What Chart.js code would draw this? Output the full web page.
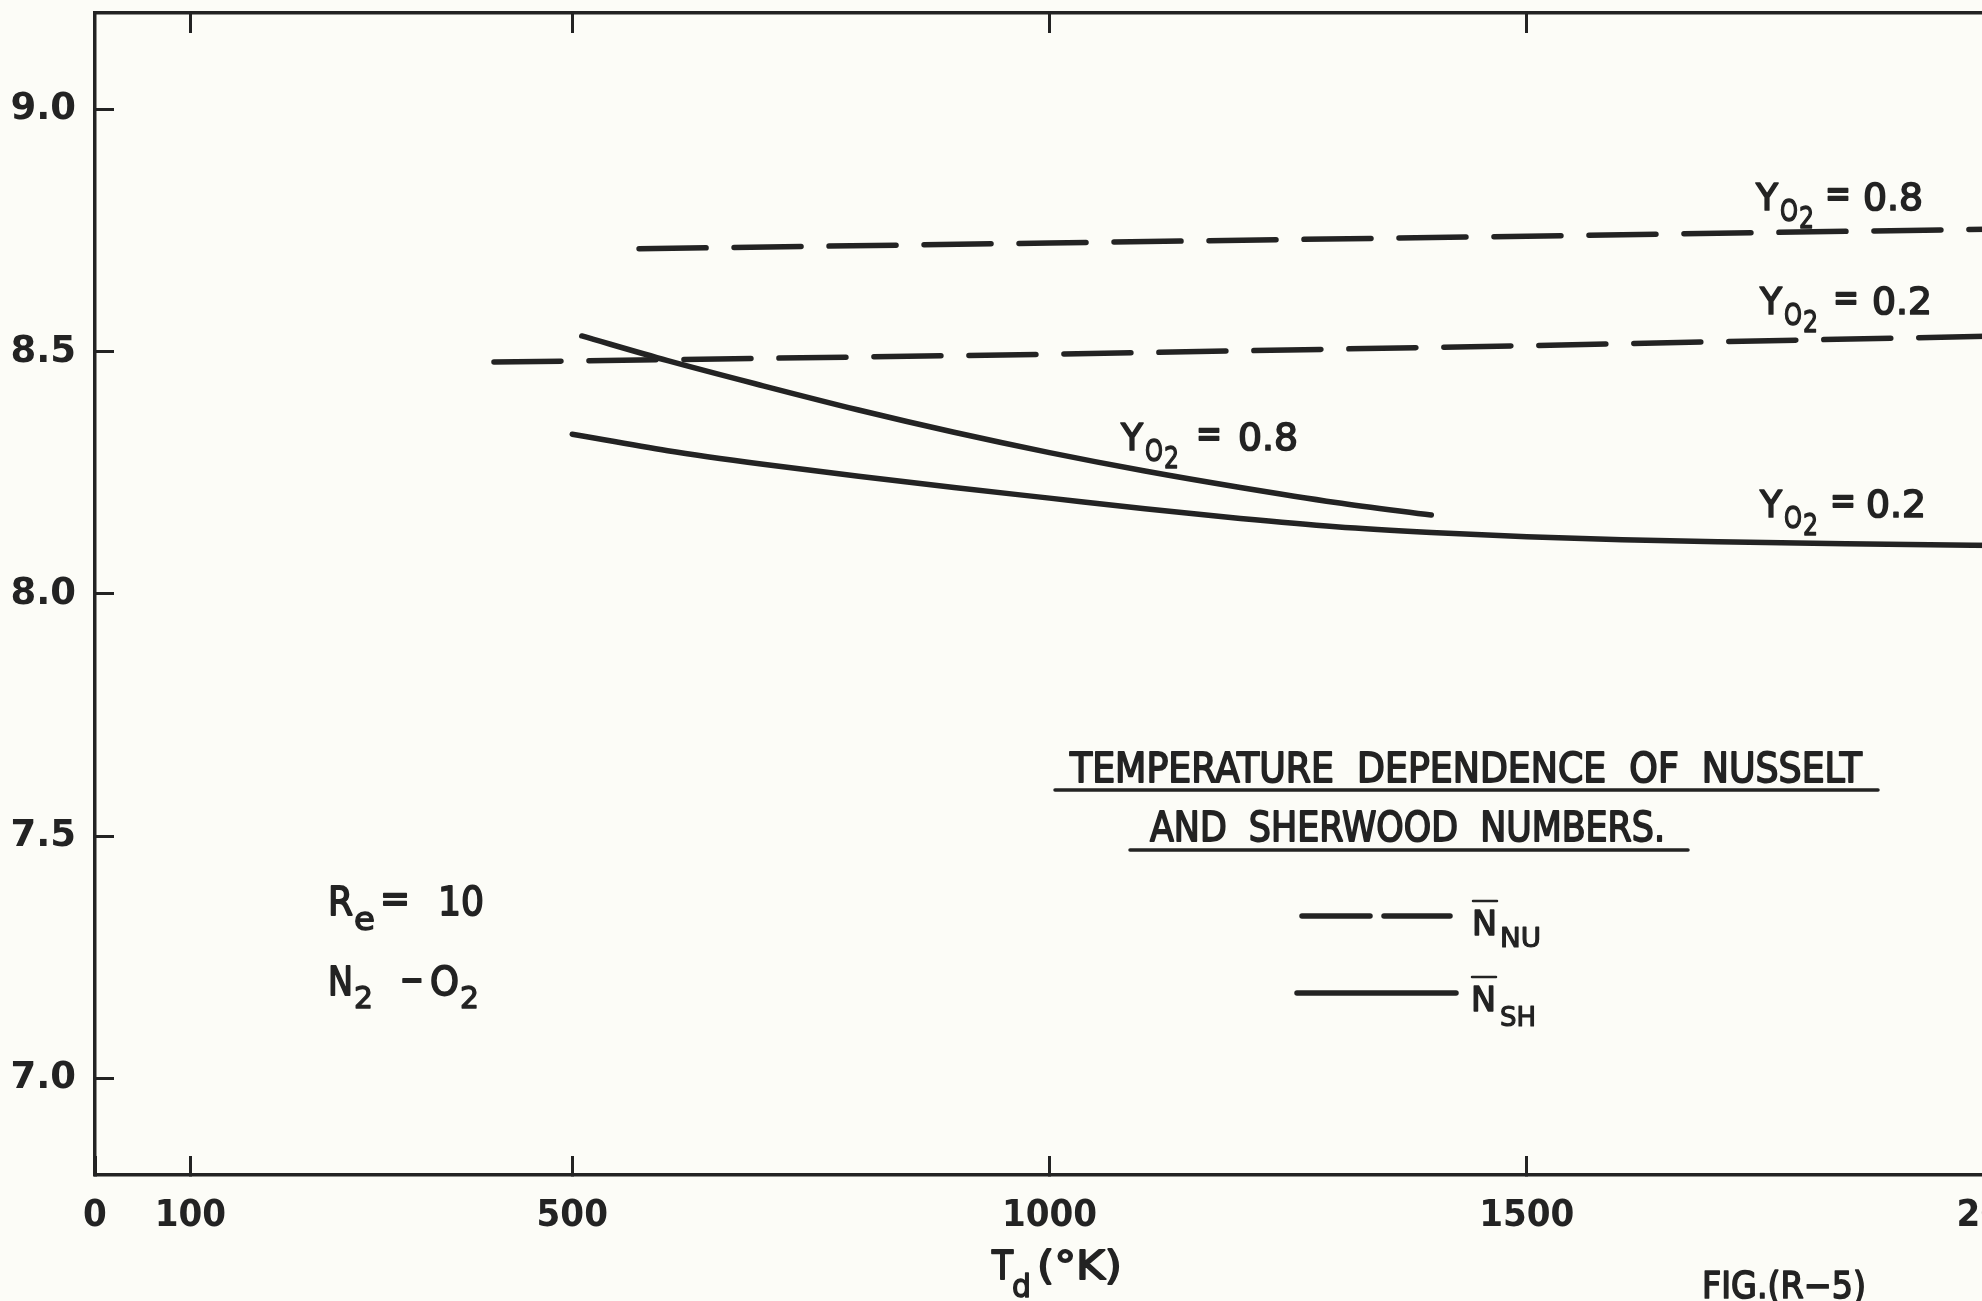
<!DOCTYPE html>
<html>
<head>
<meta charset="utf-8">
<title>Temperature dependence of Nusselt and Sherwood numbers</title>
<script src="https://cdn.jsdelivr.net/npm/chart.js@4.4.1/dist/chart.umd.min.js"></script>
<style>
  html, body { margin: 0; padding: 0; overflow: hidden; background: #fcfcf7; }
  canvas { display: block; }
</style>
</head>
<body>
<canvas id="myChart" width="2060" height="1301"></canvas>
<script>
// axis ticks
const xTickValues = [0, 100, 500, 1000, 1500, 2000];
const topTickValues = [100, 500, 1000, 1500];
const yTickValues = [7.0, 7.5, 8.0, 8.5, 9.0];

// Nusselt number (dashed), Y_O2 = 0.8 and 0.2
const nuTemp_08 = [570, 1000, 1500, 2000];
const nu_08 = [8.713, 8.725, 8.739, 8.754];
const nuTemp_02 = [418, 1000, 1500, 2000];
const nu_02 = [8.479, 8.495, 8.513, 8.533];

// Sherwood number (solid), Y_O2 = 0.8 and 0.2
const shTemp_08 = [510, 600, 700, 800, 900, 1000, 1100, 1200, 1300, 1400];
const sh_08 = [8.533, 8.482, 8.430, 8.380, 8.334, 8.292, 8.254, 8.220, 8.189, 8.163];
const shTemp_02 = [500, 600, 700, 800, 900, 1000, 1100, 1200, 1300, 1400, 1500, 1600, 1700, 1800, 1900, 2000];
const sh_02 = [8.330, 8.296, 8.268, 8.243, 8.220, 8.198, 8.176, 8.156, 8.139, 8.127, 8.118, 8.112, 8.108, 8.105, 8.102, 8.100];

const ink = '#232323';
const FAMILY = "'DejaVu Sans', sans-serif";
const CONDENSED = "'DejaVu Sans Condensed', 'DejaVu Sans', sans-serif";

function pairs(xs, ys) {
    return xs.map((x, i) => ({ x: x, y: ys[i] }));
}

// text at a left x / baseline, squeezed to a given width and thickened a little
function put(ctx, text, x, base, size, width) {
    ctx.save();
    ctx.font = size + 'px ' + FAMILY;
    ctx.fillStyle = ink;
    ctx.strokeStyle = ink;
    ctx.lineJoin = 'round';
    ctx.textAlign = 'left';
    ctx.textBaseline = 'alphabetic';
    ctx.translate(x, base);
    if (width) ctx.scale(width / ctx.measureText(text).width, 1);
    ctx.lineWidth = size * 0.045;
    ctx.fillText(text, 0, 0);
    ctx.strokeText(text, 0, 0);
    ctx.restore();
}

function rule(ctx, x1, y1, x2, y2, w) {
    ctx.save();
    ctx.strokeStyle = ink;
    ctx.lineWidth = w;
    ctx.lineCap = 'round';
    ctx.beginPath();
    ctx.moveTo(x1, y1);
    ctx.lineTo(x2, y2);
    ctx.stroke();
    ctx.restore();
}

// "Y_O2 = value"
function yo2(ctx, x, base, eqOff, valOff, value) {
    put(ctx, 'Y', x, base, 38, 22);
    put(ctx, 'O', x + 24, base + 11, 31, 18);
    put(ctx, '2', x + 43, base + 18, 30, 15);
    put(ctx, '=', x + eqOff, base - 3, 40, 26);
    put(ctx, value, x + valOff, base, 38, 60);
}

const annotations = {
    id: 'annotations',
    afterDraw(chart) {
        const ctx = chart.ctx;

        // curve labels
        yo2(ctx, 1756, 210, 69, 107, '0.8');
        yo2(ctx, 1760, 314, 73, 112, '0.2');
        yo2(ctx, 1121, 450, 75, 117, '0.8');
        yo2(ctx, 1760, 517, 70, 106, '0.2');

        // title block
        put(ctx, 'TEMPERATURE  DEPENDENCE  OF  NUSSELT', 1070, 782, 40, 792);
        rule(ctx, 1055, 790, 1878, 790, 3.5);
        put(ctx, 'AND  SHERWOOD  NUMBERS.', 1150, 841, 40, 515);
        rule(ctx, 1130, 850, 1688, 850, 3.5);

        // line key
        rule(ctx, 1302, 916, 1370, 916, 5.5);
        rule(ctx, 1384, 916, 1450, 916, 5.5);
        put(ctx, 'N', 1472, 935, 34, 25);
        rule(ctx, 1473, 901, 1497, 901, 2.5);
        put(ctx, 'NU', 1500, 947, 26, 41);

        rule(ctx, 1297, 993, 1456, 993, 5.5);
        put(ctx, 'N', 1471, 1011, 34, 25);
        rule(ctx, 1472, 977, 1496, 977, 2.5);
        put(ctx, 'SH', 1500, 1026, 26, 36);

        // flow conditions
        put(ctx, 'R', 328, 915, 39, 25);
        put(ctx, 'e', 354, 930, 32, 21);
        put(ctx, '=', 380, 912, 40, 30);
        put(ctx, '10', 438, 915, 39, 46);

        put(ctx, 'N', 328, 995, 39, 25);
        put(ctx, '2', 354, 1008, 30, 19);
        put(ctx, '\u2212', 400, 993, 40, 24);
        put(ctx, 'O', 430, 995, 39, 29);
        put(ctx, '2', 460, 1008, 30, 19);

        // axis title and figure number
        put(ctx, 'T', 992, 1279, 39, 21);
        put(ctx, 'd', 1012, 1297, 32, 19);
        put(ctx, '(\u00B0K)', 1037, 1279, 39, 85);
        put(ctx, 'FIG.(R\u22125)', 1702, 1298, 38, 164);
    }
};

const gridStyle = (len) => ({
    drawOnChartArea: false,
    drawTicks: true,
    tickLength: len,
    tickWidth: 3,
    color: ink
});
const borderStyle = { display: true, width: 3.5, color: ink };

// fixed axis sizes, no automatic label padding around the plot
function fixSize(w, h) {
    return (s) => {
        if (w !== null) s.width = w;
        if (h !== null) s.height = h;
        s.paddingTop = 0;
        s.paddingBottom = 0;
        s.paddingLeft = 0;
        s.paddingRight = 0;
    };
}

var context = document.getElementById('myChart');
var myLineChart = new Chart(context, {
    type: 'line',
    data: {
        datasets: [{
            label: 'N_NU, Y_O2 = 0.8',
            data: pairs(nuTemp_08, nu_08),
            borderDash: [67, 28]
        }, {
            label: 'N_NU, Y_O2 = 0.2',
            data: pairs(nuTemp_02, nu_02),
            borderDash: [67, 28]
        }, {
            label: 'N_SH, Y_O2 = 0.8',
            data: pairs(shTemp_08, sh_08),
            cubicInterpolationMode: 'monotone'
        }, {
            label: 'N_SH, Y_O2 = 0.2',
            data: pairs(shTemp_02, sh_02),
            cubicInterpolationMode: 'monotone'
        }]
    },
    options: {
        responsive: false,
        animation: false,
        devicePixelRatio: 1,
        layout: { padding: { left: 0, top: 13, right: 56, bottom: 0 } },
        elements: {
            point: { radius: 0, hoverRadius: 0 },
            line: { borderColor: ink, borderWidth: 5.5, borderCapStyle: 'round', tension: 0, fill: false }
        },
        plugins: {
            legend: { display: false },
            tooltip: { enabled: false }
        },
        scales: {
            x: {
                type: 'linear',
                position: 'bottom',
                min: 0,
                max: 2000,
                afterBuildTicks: (s) => { s.ticks = xTickValues.map(v => ({ value: v })); },
                afterFit: fixSize(null, 126),
                grid: gridStyle(-19),
                border: borderStyle,
                ticks: {
                    autoSkip: false,
                    maxRotation: 0,
                    padding: 37,
                    color: ink,
                    font: { family: CONDENSED, size: 38, weight: 'bold' },
                    callback: (v) => String(v)
                }
            },
            xTop: {
                type: 'linear',
                position: 'top',
                min: 0,
                max: 2000,
                afterBuildTicks: (s) => { s.ticks = topTickValues.map(v => ({ value: v })); },
                afterFit: fixSize(null, 0),
                grid: gridStyle(-20),
                border: borderStyle,
                ticks: { display: false }
            },
            y: {
                min: 6.8,
                max: 9.2,
                afterBuildTicks: (s) => { s.ticks = yTickValues.map(v => ({ value: v })); },
                afterFit: fixSize(95, null),
                grid: gridStyle(-19),
                border: borderStyle,
                ticks: {
                    padding: 38,
                    color: ink,
                    font: { family: FAMILY, size: 37, weight: 'bold' },
                    callback: (v) => v.toFixed(1)
                }
            }
        }
    },
    plugins: [annotations]
});
</script>
</body>
</html>
